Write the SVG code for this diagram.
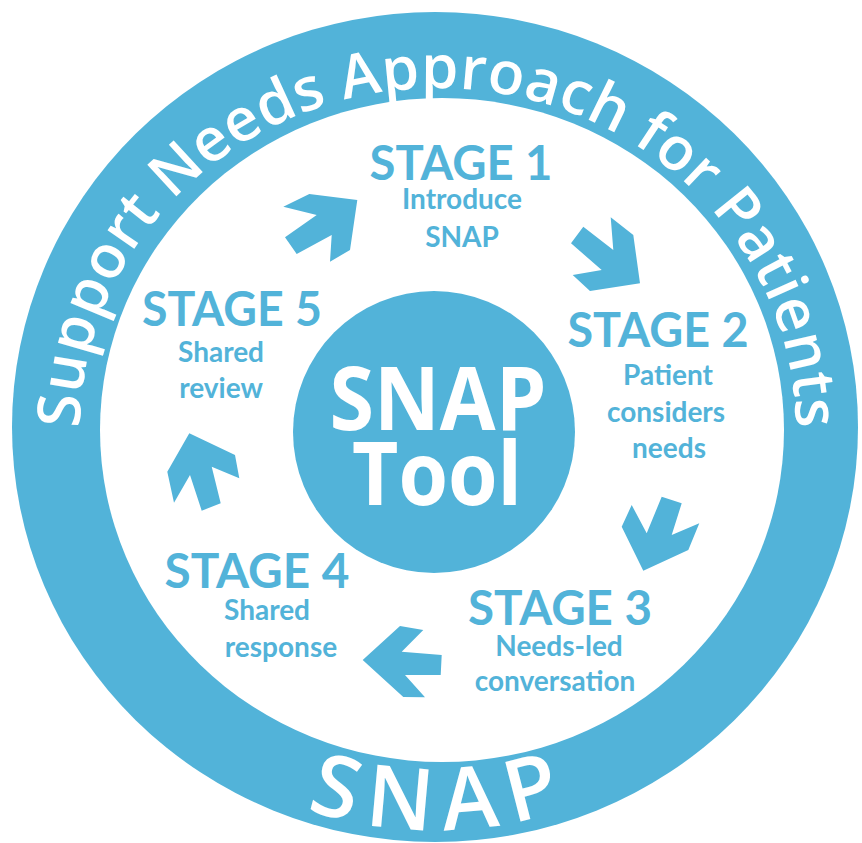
<svg xmlns="http://www.w3.org/2000/svg" width="862" height="843" viewBox="0 0 862 843">
  <defs>
    <style>
      .blue { fill: #52b3d9; }
      .ring-text { font-family: "Open Sans", "DejaVu Sans", sans-serif; font-weight: 600; fill: #ffffff; }
      .center-text { font-family: "Open Sans", "DejaVu Sans", sans-serif; font-weight: 700; fill: #ffffff; text-anchor: middle; }
      .stage { font-family: Lato, "Liberation Sans", sans-serif; font-weight: 700; fill: #52b3d9; text-anchor: middle; font-size: 47px; }
      .sub { font-family: Lato, "Liberation Sans", sans-serif; font-weight: 700; fill: #52b3d9; text-anchor: middle; font-size: 28px; }
      .arrow { fill: #52b3d9; }
    </style>
    <path id="topArc" d="M 80 430 A 358 342 0 0 1 796 430"/>
    <path id="bottomArc" d="M 25 427 A 410 403 0 0 0 845 427"/>
  </defs>

  <rect width="862" height="843" fill="#ffffff"/>

  <g id="ring">
    <ellipse class="blue" cx="435" cy="427" rx="423" ry="415"/>
    <ellipse cx="442" cy="430" rx="342" ry="332" fill="#ffffff"/>
    <text class="ring-text" font-size="60">
      <textPath href="#topArc" startOffset="50%" text-anchor="middle" textLength="1095" lengthAdjust="spacing">Support Needs Approach for Patients</textPath>
    </text>
    <text class="ring-text" font-size="86" font-weight="700">
      <textPath href="#bottomArc" startOffset="50%" text-anchor="middle" textLength="262" lengthAdjust="spacing">SNAP</textPath>
    </text>
  </g>

  <g id="snap-tool">
    <circle class="blue" cx="434" cy="432" r="141"/>
    <text class="center-text" x="438" y="430" font-size="87" textLength="217" lengthAdjust="spacingAndGlyphs">SNAP</text>
    <text class="center-text" x="437" y="505" font-size="87" textLength="170" lengthAdjust="spacingAndGlyphs">Tool</text>
  </g>

  <g id="stage1">
    <text class="stage" x="461" y="180" textLength="183" lengthAdjust="spacingAndGlyphs">STAGE 1</text>
    <text class="sub" x="462" y="209">Introduce</text>
    <text class="sub" x="462" y="247">SNAP</text>
  </g>

  <g id="stage2">
    <text class="stage" x="658" y="347" textLength="181" lengthAdjust="spacingAndGlyphs">STAGE 2</text>
    <text class="sub" x="668" y="385">Patient</text>
    <text class="sub" x="666" y="422">considers</text>
    <text class="sub" x="669" y="458">needs</text>
  </g>

  <g id="stage3">
    <text class="stage" x="560" y="625" textLength="184" lengthAdjust="spacingAndGlyphs">STAGE 3</text>
    <text class="sub" x="559" y="656">Needs-led</text>
    <text class="sub" x="555" y="691">conversation</text>
  </g>

  <g id="stage4">
    <text class="stage" x="257" y="588" textLength="185" lengthAdjust="spacingAndGlyphs">STAGE 4</text>
    <text class="sub" x="267" y="620">Shared</text>
    <text class="sub" x="281" y="657">response</text>
  </g>

  <g id="stage5">
    <text class="stage" x="232" y="326" textLength="180" lengthAdjust="spacingAndGlyphs">STAGE 5</text>
    <text class="sub" x="221" y="362">Shared</text>
    <text class="sub" x="221" y="398">review</text>
  </g>

  <g id="connectors">
    <polygon class="arrow" points="309.3,194 357.3,200 350,250 330,261.7 331.7,235 296.7,254 285,237.3 316.7,215 283.3,206.7"/>
    <polygon class="arrow" points="583.3,226.7 613.3,250 610.7,217.3 633.3,235 640,283.3 590,291 572.7,275 601.7,270 571,243.3"/>
    <polygon class="arrow" points="661.7,496.7 681.7,503.3 671.7,535 699.3,523.3 688.3,550 643.3,570.7 621.7,526.7 631.7,505 646.7,533.3"/>
    <polygon class="arrow" points="400,626 423.3,630 401.7,651.7 441.7,655 440.7,675 405,675 425,697.3 403.3,697 362.7,660"/>
    <polygon class="arrow" points="189.3,433.3 235,455 239.3,478.3 211.7,466.7 220.7,503.3 201.7,510.7 190,475 174,502.7 167.3,471.7"/>
  </g>
</svg>
